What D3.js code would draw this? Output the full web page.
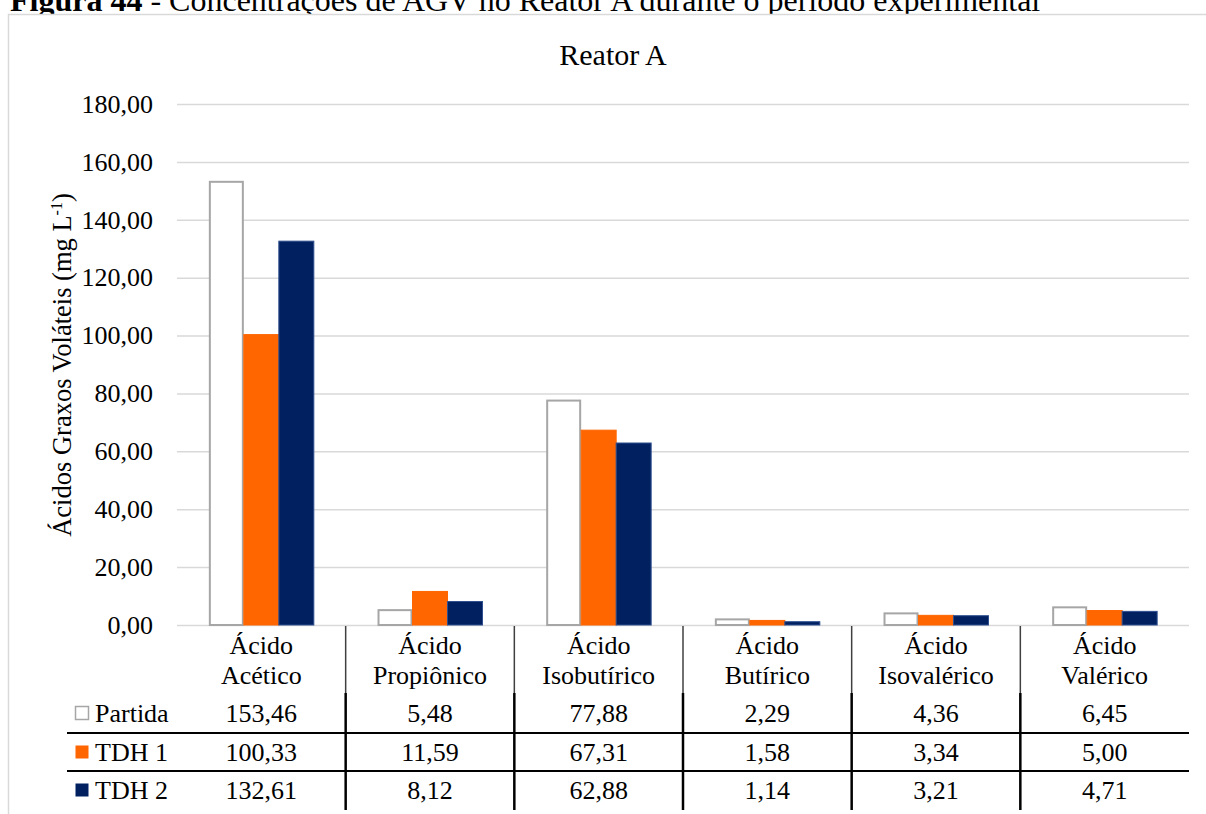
<!DOCTYPE html>
<html>
<head>
<meta charset="utf-8">
<script src="https://cdn.jsdelivr.net/npm/d3@7"></script>
<style>
  html, body { margin: 0; padding: 0; background: #fff; }
  svg { display: block; font-family: "Liberation Serif", "Times New Roman", serif; }
</style>
</head>
<body>
<svg id="chart" width="1206" height="814"></svg>
<script>
// Volatile fatty acid concentrations (mg/L) per phase
const categories = [
  ["Ácido", "Acético"],
  ["Ácido", "Propiônico"],
  ["Ácido", "Isobutírico"],
  ["Ácido", "Butírico"],
  ["Ácido", "Isovalérico"],
  ["Ácido", "Valérico"]
];
const seriesNames = ["Partida", "TDH 1", "TDH 2"];
const partida = [153.46, 5.48, 77.88, 2.29, 4.36, 6.45];
const tdh1 = [100.33, 11.59, 67.31, 1.58, 3.34, 5.00];
const tdh2 = [132.61, 8.12, 62.88, 1.14, 3.21, 4.71];
const yTicks = [0, 20, 40, 60, 80, 100, 120, 140, 160, 180];

const seriesValues = [partida, tdh1, tdh2];
const fills = ["#ffffff", "#ff6600", "#002060"];
const strokes = ["#a6a6a6", "#ff6600", "#2f4f8f"];

const svg = d3.select("#chart");
const fmt = v => d3.format(".2f")(v).replace(".", ",");

const plotLeft = 177, plotRight = 1189, plotTop = 104, plotBase = 625;
const catKeys = categories.map(c => c.join(" "));

const x0 = d3.scaleBand().domain(catKeys).range([plotLeft, plotRight]).paddingInner(0).paddingOuter(0);
const barW = x0.bandwidth() / 4.82;
const groupOffset = (x0.bandwidth() - 3 * barW) / 2;
const x1 = d3.scaleBand().domain(seriesNames).range([0, 3 * barW]);
const y = d3.scaleLinear().domain([0, 180]).range([plotBase, plotTop]);

// Caption above the chart frame
const cap = svg.append("text").attr("x", 10).attr("y", 11)
  .attr("font-size", 32).attr("fill", "#000");
cap.append("tspan").attr("font-weight", "bold").text("Figura 44");
cap.append("tspan").text(" - Concentrações de AGV no Reator A durante o período experimental");

// Chart frame
svg.append("rect").attr("x", 8.5).attr("y", 14.5).attr("width", 1210).attr("height", 820)
  .attr("fill", "#fff").attr("stroke", "#d9d9d9").attr("stroke-width", 1.5);

// Title
svg.append("text").attr("x", 613).attr("y", 65).attr("text-anchor", "middle")
  .attr("font-size", 30).attr("fill", "#000").text("Reator A");

// Y axis with horizontal gridlines
const yAxis = d3.axisLeft(y).tickValues(yTicks).tickFormat(fmt)
  .tickSize(-(plotRight - plotLeft)).tickPadding(24);
const gy = svg.append("g").attr("transform", `translate(${plotLeft},0)`).call(yAxis);
gy.select(".domain").remove();
gy.selectAll(".tick line").attr("stroke", "#d9d9d9").attr("stroke-width", 1.5);
gy.selectAll(".tick text").attr("font-size", 26).attr("fill", "#000")
  .attr("font-family", "Liberation Serif, Times New Roman, serif");

// Y axis title
const yt = svg.append("text")
  .attr("transform", "translate(71,365) rotate(-90)")
  .attr("text-anchor", "middle").attr("font-size", 26.5).attr("fill", "#000");
yt.append("tspan").text("Ácidos Graxos Voláteis (mg L");
yt.append("tspan").attr("dy", -9).attr("font-size", 16).text("-1");
yt.append("tspan").attr("dy", 9).text(")");

// Bars
seriesNames.forEach((s, si) => {
  const inset = si === 0 ? 1 : 0;
  svg.append("g").selectAll("rect").data(seriesValues[si]).join("rect")
    .attr("x", (d, i) => x0(catKeys[i]) + groupOffset + x1(s) + inset)
    .attr("y", d => y(d) + inset)
    .attr("width", barW - 2 * inset)
    .attr("height", d => plotBase - y(d) - inset)
    .attr("fill", fills[si])
    .attr("stroke", strokes[si])
    .attr("stroke-width", si === 0 ? 2 : 1);
});

// Data table under the axis
const rowTop = 693;
const rowLines = [733, 771];
const tableBottom = 810;

// Column separators: lighter in the header, dark in the value rows
for (let i = 1; i < categories.length; i++) {
  const xs = x0(catKeys[i]);
  svg.append("line").attr("x1", xs).attr("x2", xs).attr("y1", plotBase + 1).attr("y2", rowTop)
    .attr("stroke", "#404040").attr("stroke-width", 1.5);
  svg.append("line").attr("x1", xs).attr("x2", xs).attr("y1", rowTop).attr("y2", tableBottom)
    .attr("stroke", "#000").attr("stroke-width", 2.5);
}
rowLines.forEach(ly => {
  svg.append("line").attr("x1", 67).attr("x2", plotRight).attr("y1", ly).attr("y2", ly)
    .attr("stroke", "#000").attr("stroke-width", 2);
});

// Category labels
categories.forEach((c, i) => {
  const cx = x0(catKeys[i]) + x0.bandwidth() / 2;
  c.forEach((line, li) => {
    svg.append("text").attr("x", cx).attr("y", 654 + li * 30)
      .attr("text-anchor", "middle").attr("font-size", 26).attr("fill", "#000").text(line);
  });
});

// Rows: legend key, name and values
const baselines = [722, 761, 799];
seriesNames.forEach((s, si) => {
  const by = baselines[si];
  svg.append("rect").attr("x", 75.5).attr("y", by - 15.5).attr("width", 13).attr("height", 13)
    .attr("fill", fills[si]).attr("stroke", si === 0 ? "#a6a6a6" : fills[si]).attr("stroke-width", si === 0 ? 1.5 : 0);
  svg.append("text").attr("x", 95).attr("y", by).attr("font-size", 26).attr("fill", "#000").text(s);
  seriesValues[si].forEach((v, i) => {
    svg.append("text").attr("x", x0(catKeys[i]) + x0.bandwidth() / 2).attr("y", by)
      .attr("text-anchor", "middle").attr("font-size", 26).attr("fill", "#000").text(fmt(v));
  });
});
</script>
</body>
</html>
